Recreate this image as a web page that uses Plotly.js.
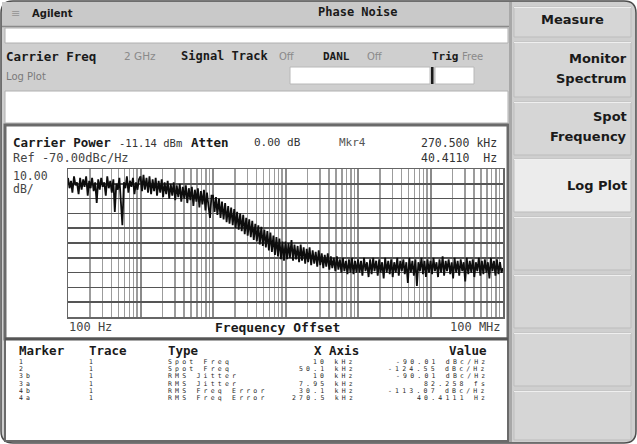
<!DOCTYPE html>
<html>
<head>
<meta charset="utf-8">
<script src="https://cdn.plot.ly/plotly-3.0.1.min.js"></script>
<style>
html,body{margin:0;padding:0;background:#fff;}
#chart{width:637px;height:444px;}
text.annotation-text[style*="font-size: 6.5px"]{letter-spacing:3.2px;}
</style>
</head>
<body>
<div id="chart"></div>
<script>
// ---------------- DATA ----------------
// Offset frequency (Hz) of the measured phase-noise trace
const offsetHz = [
  100,105,110,115,121,127,133,140,147,154,162,169,178,187,196,205,215,226,237,249,261,274,287,301,
  316,332,348,365,383,402,422,442,464,487,511,536,562,590,619,649,681,715,750,787,825,866,909,953,
  1000,1050,1100,1150,1210,1270,1330,1400,1470,1540,1620,1690,1780,1870,1960,2050,2150,2260,2370,2490,2610,2740,2870,3010,
  3160,3320,3480,3650,3830,4020,4220,4420,4640,4870,5110,5360,5620,5900,6190,6490,6810,7150,7500,7870,8250,8660,9090,9530,
  1.00e4,1.05e4,1.10e4,1.15e4,1.21e4,1.27e4,1.33e4,1.40e4,1.47e4,1.54e4,1.62e4,1.69e4,1.78e4,1.87e4,1.96e4,2.05e4,2.15e4,2.26e4,2.37e4,2.49e4,2.61e4,2.74e4,2.87e4,3.01e4,
  3.16e4,3.32e4,3.48e4,3.65e4,3.83e4,4.02e4,4.22e4,4.42e4,4.64e4,4.87e4,5.11e4,5.36e4,5.62e4,5.90e4,6.19e4,6.49e4,6.81e4,7.15e4,7.50e4,7.87e4,8.25e4,8.66e4,9.09e4,9.53e4,
  1.00e5,1.05e5,1.10e5,1.15e5,1.21e5,1.27e5,1.33e5,1.40e5,1.47e5,1.54e5,1.62e5,1.69e5,1.78e5,1.87e5,1.96e5,2.05e5,2.15e5,2.26e5,2.37e5,2.49e5,2.61e5,2.74e5,2.87e5,3.01e5,
  3.16e5,3.32e5,3.48e5,3.65e5,3.83e5,4.02e5,4.22e5,4.42e5,4.64e5,4.87e5,5.11e5,5.36e5,5.62e5,5.90e5,6.19e5,6.49e5,6.81e5,7.15e5,7.50e5,7.87e5,8.25e5,8.66e5,9.09e5,9.53e5,
  1.00e6,1.05e6,1.10e6,1.15e6,1.21e6,1.27e6,1.33e6,1.40e6,1.47e6,1.54e6,1.62e6,1.69e6,1.78e6,1.87e6,1.96e6,2.05e6,2.15e6,2.26e6,2.37e6,2.49e6,2.61e6,2.74e6,2.87e6,3.01e6,
  3.16e6,3.32e6,3.48e6,3.65e6,3.83e6,4.02e6,4.22e6,4.42e6,4.64e6,4.87e6,5.11e6,5.36e6,5.62e6,5.90e6,6.19e6,6.49e6,6.81e6,7.15e6,7.50e6,7.87e6,8.25e6,8.66e6,9.09e6,9.53e6,
  1.00e7,1.05e7,1.10e7,1.15e7,1.21e7,1.27e7,1.33e7,1.40e7,1.47e7,1.54e7,1.62e7,1.69e7,1.78e7,1.87e7,1.96e7,2.05e7,2.15e7,2.26e7,2.37e7,2.49e7,2.61e7,2.74e7,2.87e7,3.01e7,
  3.16e7,3.32e7,3.48e7,3.65e7,3.83e7,4.02e7,4.22e7,4.42e7,4.64e7,4.87e7,5.11e7,5.36e7,5.62e7,5.90e7,6.19e7,6.49e7,6.81e7,7.15e7,7.50e7,7.87e7,8.25e7,8.66e7,9.09e7,9.53e7,
  1.00e8
];
// Phase noise (dBc/Hz)
const phaseNoise = [
  -76,-83,-78,-86,-75,-81,-79,-87,-76,-84,-77,-82,-75,-88,-78,-83,-76,-85,-79,-93,-77,-84,-76,-82,
  -79,-88,-75,-83,-78,-86,-77,-99,-80,-84,-76,-89,-108,-79,-83,-75,-86,-78,-82,-76,-87,-79,-84,-77,
  -75,-85,-74,-84,-76,-86,-75,-87,-77,-85,-76,-88,-78,-86,-77,-89,-79,-87,-78,-90,-80,-88,-79,-91,
  -81,-89,-80,-92,-82,-90,-81,-93,-83,-91,-82,-95,-84,-92,-83,-96,-85,-94,-84,-98,-86,-95,-103,-88,
  -88,-99,-89,-101,-90,-103,-92,-104,-93,-106,-95,-107,-96,-108,-97,-110,-99,-111,-100,-112,-101,-114,-103,-115,
  -104,-116,-105,-118,-107,-119,-108,-121,-109,-122,-111,-123,-112,-125,-113,-126,-115,-128,-116,-129,-117,-131,-119,-132,
  -119,-131,-120,-130,-118,-132,-121,-131,-122,-133,-121,-132,-123,-134,-124,-133,-123,-135,-125,-134,-126,-136,-125,-135,
  -127,-137,-128,-136,-127,-138,-129,-137,-130,-139,-129,-138,-131,-140,-130,-139,-132,-141,-131,-140,-130,-141,-132,-140,
  -131,-140,-132,-142,-130,-139,-133,-143,-131,-141,-130,-139,-132,-142,-131,-140,-133,-144,-130,-140,-132,-141,-131,-143,
  -133,-140,-130,-142,-132,-139,-131,-141,-133,-147,-130,-140,-132,-142,-131,-149,-133,-139,-130,-141,-132,-143,-131,-140,
  -132,-141,-130,-139,-133,-143,-131,-140,-129,-142,-132,-139,-131,-141,-133,-144,-130,-140,-132,-142,-131,-139,-133,-146,
  -130,-141,-132,-140,-131,-143,-133,-139,-130,-142,-132,-141,-131,-140,-133,-144,-130,-139,-132,-142,-131,-141,-133,-140,
  -137
];
const yRange = [-170, -70];        // Ref -70 dBc/Hz, 10 dB/div
const xRangeLog = [2, 8];          // 100 Hz .. 100 MHz

// Marker table
const mkrIds    = ["1","2","3b","3a","4b","4a"];
const mkrTraces = ["1","1","1","1","1","1"];
const mkrTypes  = ["Spot Freq","Spot Freq","RMS Jitter","RMS Jitter","RMS Freq Error","RMS Freq Error"];
const mkrXAxis  = ["10 kHz","50.1 kHz","10 kHz","7.95 kHz","30.1 kHz","270.5 kHz"];
const mkrValues = ["-90.01 dBc/Hz","-124.55 dBc/Hz","-90.01 dBc/Hz","82.258 fs","-113.07 dBc/Hz","40.4111 Hz"];

// Softkeys
const softkeys = [["Measure"],["Monitor","Spectrum"],["Spot","Frequency"],["Log Plot"],[],[],[],[]];

// ---------------- LAYOUT HELPERS ----------------
const W = 637, H = 444;
const X = p => p / W;
const Y = p => 1 - p / H;
const shapes = [];
const ann = [];
function rect(x0, y0, x1, y1, fill, line, lw) {
  shapes.push({type:'rect', xref:'paper', yref:'paper', layer:'below',
    x0:X(x0), x1:X(x1), y0:Y(y1), y1:Y(y0),
    fillcolor:fill, line:{color:line || 'rgba(0,0,0,0)', width: lw || 0}});
}
function hline(x0, x1, y, color, w) {
  shapes.push({type:'line', xref:'paper', yref:'paper', layer:'below',
    x0:X(x0), x1:X(x1), y0:Y(y), y1:Y(y), line:{color:color, width:w}});
}
function txt(x, y, text, o) {
  o = o || {};
  ann.push({xref:'paper', yref:'paper', x:X(x), y:Y(y), text:text, showarrow:false,
    xanchor:o.anchor || 'left', yanchor:'middle', borderpad:0,
    font:{family:o.family || 'DejaVu Sans Mono', size:o.size || 12, color:o.color || '#1a1a1a'}});
}

// outer rounded frame
const r = 12;
const fp = `M ${X(1+r)},${Y(1)} L ${X(636-r)},${Y(1)} Q ${X(636)},${Y(1)} ${X(636)},${Y(1+r)} ` +
           `L ${X(636)},${Y(443-r)} Q ${X(636)},${Y(443)} ${X(636-r)},${Y(443)} ` +
           `L ${X(1+r)},${Y(443)} Q ${X(1)},${Y(443)} ${X(1)},${Y(443-r)} ` +
           `L ${X(1)},${Y(1+r)} Q ${X(1)},${Y(1)} ${X(1+r)},${Y(1)} Z`;
shapes.push({type:'path', xref:'paper', yref:'paper', layer:'below', path:fp,
  fillcolor:'#cfcfcf', line:{color:'#4d4d4d', width:1.5}});

// title bar
rect(2, 2, 510, 26, '#c9c9c9');
hline(2, 510, 26.5, '#8a8a8a', 1.5);
// white field under title
rect(5, 28, 508, 43, '#ffffff', '#b0b0b0', 1);
// input boxes in gray band
rect(290, 67, 430, 84, '#ffffff', '#b8b8b8', 1);
rect(431, 67, 433.5, 84, '#1a1a1a');
rect(435, 67, 474, 84, '#ffffff', '#b8b8b8', 1);
// white area
rect(5, 91, 508, 123, '#ffffff', '#b0b0b0', 1);
// plot panel
rect(5, 125, 508, 339, '#ffffff', '#6a6a6a', 3);
// marker table
rect(5, 339, 508, 441, '#ffffff', '#6a6a6a', 2);
hline(5, 508, 339, '#555', 3);
// right panel divider
rect(509, 2, 512, 442, '#a8a8a8');

// softkey buttons
const keyBoxes = [[7,37],[42,97],[102,155],[159,212],[217,270],[275,328],[333,386],[391,440]];
keyBoxes.forEach((b, i) => {
  rect(514, b[0], 631, b[1], i === 3 ? '#ececec' : '#d6d6d6', '#bdbdbd', 1);
  hline(514, 631, b[0] + 0.5, '#efefef', 1);
});

// ---------------- TEXT ----------------
const B = s => '<b>' + s + '</b>';
txt(10, 13, '≡', {family:'DejaVu Sans', size:11, color:'#9a9a9a'});
txt(31, 13, B('Agilent'), {family:'DejaVu Sans', size:10});
txt(357, 12, B('Phase Noise'), {anchor:'center', size:12});

txt(5, 56, B('Carrier Freq'), {size:12.5});
txt(123, 56, '2 GHz', {family:'DejaVu Sans', size:10.5, color:'#8a8a8a'});
txt(180, 56, B('Signal Track'), {size:12});
txt(278, 56, 'Off', {family:'DejaVu Sans', size:10, color:'#8a8a8a'});
txt(322, 56, B('DANL'), {size:11});
txt(366, 56, 'Off', {family:'DejaVu Sans', size:10, color:'#8a8a8a'});
txt(431, 56, B('Trig'), {size:11});
txt(461, 56, 'Free', {family:'DejaVu Sans', size:10, color:'#8a8a8a'});
txt(5, 76, 'Log Plot', {family:'DejaVu Sans', size:10, color:'#7a7a7a'});

txt(12, 143, B('Carrier Power'), {size:12.5});
txt(118, 143, '-11.14 dBm', {size:10.5, color:'#333'});
txt(190, 143, B('Atten'), {size:12.5});
txt(253, 143, '0.00 dB', {size:11, color:'#333'});
txt(338, 143, 'Mkr4', {size:11, color:'#555'});
txt(498, 143, '270.500 kHz', {anchor:'right', size:11.5, color:'#333'});
txt(12, 158, 'Ref -70.00dBc/Hz', {size:12, color:'#444'});
txt(498, 158, '40.4110  Hz', {anchor:'right', size:11.5, color:'#333'});
txt(12, 176, '10.00', {size:11.5, color:'#444'});
txt(12, 189, 'dB/', {size:11.5, color:'#444'});

txt(68, 327, '100 Hz', {size:12, color:'#444'});
txt(277, 327, B('Frequency Offset'), {anchor:'center', size:13});
txt(502, 327, '100 MHz', {anchor:'right', size:12, color:'#444'});

txt(18, 350, B('Marker'), {size:12.5});
txt(88, 350, B('Trace'), {size:12.5});
txt(167, 350, B('Type'), {size:12.5});
txt(360, 350, B('X Axis'), {anchor:'right', size:12.5});
txt(488, 350, B('Value'), {anchor:'right', size:12.5});
for (let i = 0; i < mkrIds.length; i++) {
  const yy = 362 + i * 7.2;
  const o = {size:6.5, color:'#2a2a2a'};
  txt(18, yy, mkrIds[i], o);
  txt(88, yy, mkrTraces[i], o);
  txt(167, yy, mkrTypes[i], o);
  txt(357, yy, mkrXAxis[i], Object.assign({anchor:'right'}, o));
  txt(489, yy, mkrValues[i], Object.assign({anchor:'right'}, o));
}

// softkey labels
const keyCenters = [20, 69, 126, 185];
softkeys.forEach((lines, i) => {
  if (!lines.length) return;
  const f = {family:'DejaVu Sans', size:13, color:'#1a1a1a'};
  if (i === 0) { txt(572, keyCenters[0], B(lines[0]), Object.assign({anchor:'center'}, f)); return; }
  if (lines.length === 1) { txt(628, keyCenters[i], B(lines[0]), Object.assign({anchor:'right'}, f)); return; }
  txt(628, keyCenters[i] - 10, B(lines[0]), Object.assign({anchor:'right'}, f));
  txt(628, keyCenters[i] + 10, B(lines[1]), Object.assign({anchor:'right'}, f));
});

// ---------------- PLOT ----------------
const trace = {
  type:'scatter', mode:'lines', x:offsetHz, y:phaseNoise,
  line:{color:'#0d0d0d', width:1.8}, hoverinfo:'skip', showlegend:false
};
const layout = {
  width:W, height:H, autosize:false,
  margin:{l:0, r:0, t:0, b:0, pad:0},
  paper_bgcolor:'#ffffff', plot_bgcolor:'#ffffff',
  showlegend:false,
  xaxis:{type:'log', range:xRangeLog, domain:[X(68), X(503)], dtick:1,
    showgrid:true, gridcolor:'#8a8a8a', gridwidth:2,
    minor:{dtick:'D1', showgrid:true, gridcolor:'#9c9c9c', gridwidth:1.4, ticks:''},
    showticklabels:false, ticks:'', zeroline:false,
    showline:true, mirror:true, linecolor:'#666', linewidth:1.5, fixedrange:true},
  yaxis:{range:yRange, domain:[Y(317), Y(169)], dtick:10,
    showgrid:true, gridcolor:'#555', gridwidth:1.6,
    showticklabels:false, ticks:'', zeroline:false,
    showline:true, mirror:true, linecolor:'#666', linewidth:1.5, fixedrange:true},
  shapes:shapes, annotations:ann
};
Plotly.newPlot('chart', [trace], layout, {displayModeBar:false, staticPlot:true});
</script>
</body>
</html>
